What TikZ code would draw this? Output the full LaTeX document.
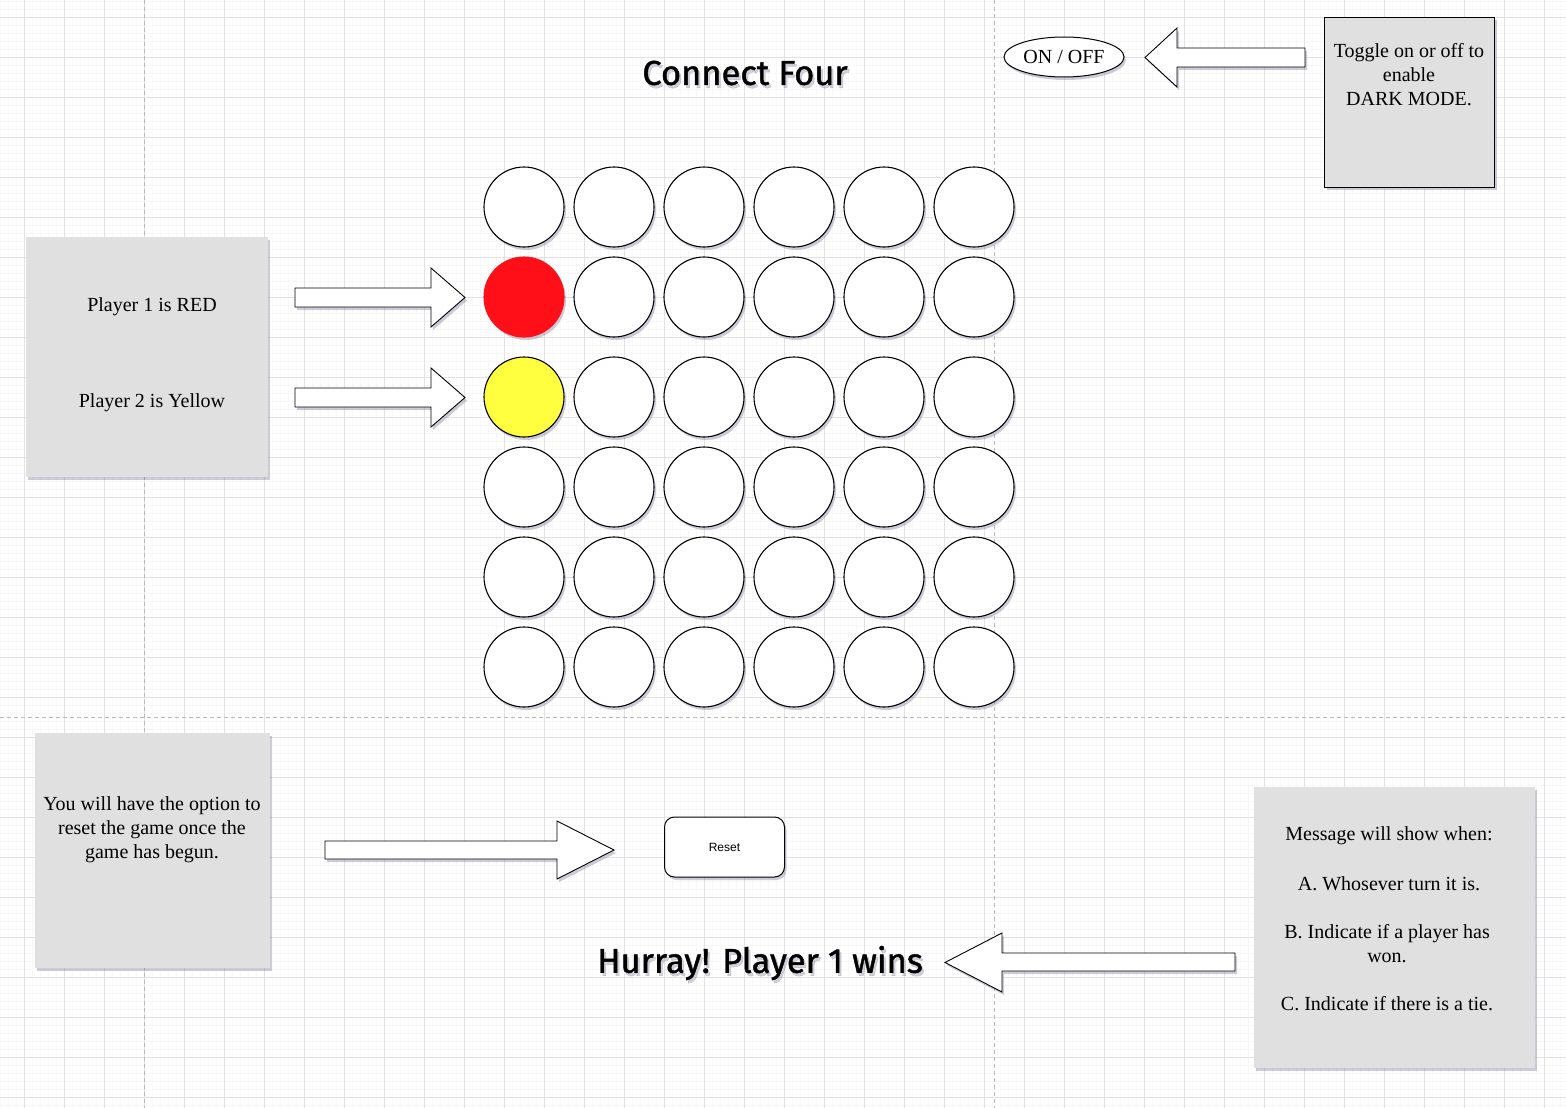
\documentclass[tikz,border=0pt]{standalone}
\usepackage{fontspec}
\setmainfont{Liberation Serif}
\newfontfamily\comic[FakeBold=1.2]{Fira Sans}
\newfontfamily\helv{Liberation Sans}
\usetikzlibrary{shadows,shapes.geometric}
\definecolor{gridminor}{HTML}{F7F7F7}
\definecolor{gridmajor}{HTML}{E2E2E2}
\definecolor{pagebreak}{HTML}{B8B8B8}
\definecolor{boxgray}{HTML}{E0E0E0}
\definecolor{shadowc}{HTML}{6E6E90}
\definecolor{chipred}{HTML}{FF0F17}
\definecolor{chipyellow}{HTML}{FFFF40}
\begin{document}
\begin{tikzpicture}[x=1pt,y=-1pt,
  shad/.style={drop shadow={shadow xshift=2pt,shadow yshift=-3pt,fill=shadowc,opacity=0.35}},
  note/.style={fill=boxgray,shad,inner sep=0pt},
  disc/.style={circle,draw=black,line width=1.1pt,fill=white,minimum size=80pt,inner sep=0pt,shad},
  barrow/.style={draw=black,fill=white,line width=0.9pt,line join=miter,shad},
  serif/.style={font=\fontsize{20}{24}\selectfont,align=center,inner sep=0pt},
  bigcomic/.style={font=\comic\fontsize{34.5}{38}\selectfont,inner sep=0pt},
  comicshadow/.style={bigcomic,text=shadowc,opacity=0.3}
]
\useasboundingbox (0,0) rectangle (1566,1108);
\fill[white] (0,0) rectangle (1566,1108);
% grid
\foreach \gx in {0,8,...,1566} \draw[gridminor,line width=0.8pt] (\gx,0) -- (\gx,1108);
\foreach \gy in {1,9,...,1108} \draw[gridminor,line width=0.8pt] (0,\gy) -- (1566,\gy);
\foreach \gx in {24,64,...,1566} \draw[gridmajor,line width=0.8pt] (\gx,0) -- (\gx,1108);
\foreach \gy in {17,57,...,1108} \draw[gridmajor,line width=0.8pt] (0,\gy) -- (1566,\gy);
\draw[pagebreak,line width=0.8pt,dash pattern=on 4pt off 3pt] (144,0) -- (144,1108);
\draw[pagebreak,line width=0.8pt,dash pattern=on 4pt off 3pt] (994,0) -- (994,1108);
\draw[pagebreak,line width=0.8pt,dash pattern=on 4pt off 3pt] (0,717) -- (1566,717);

% title
\node[comicshadow] at (747,76) {Connect Four};
\node[bigcomic] (title) at (745,73) {Connect Four};

% board
\foreach \yy [count=\r] in {207,297,397,487,577,667}
  \foreach \xx [count=\c] in {524,614,704,794,884,974}
  {\ifnum\r\c=21 \else\ifnum\r\c=31 \else \node[disc] (d\r\c) at (\xx,\yy) {};\fi\fi}
\node[disc,fill=chipred,draw=chipred] (d21) at (524,297) {};
\node[disc,fill=chipyellow] (d31) at (524,397) {};

% players note
\node[note,minimum width=242pt,minimum height=240pt] (players) at (147,357) {};
\node[serif] (p1) at (152,307) {Player 1 is RED};
\node[serif] (p2) at (152,403) {Player 2 is Yellow};
\draw[barrow] (295,288) -- (431,288) -- (431,268) -- (465,297.5) -- (431,327) -- (431,307) -- (295,307) -- cycle;
\draw[barrow] (295,388) -- (431,388) -- (431,368) -- (465,397.5) -- (431,427) -- (431,407) -- (295,407) -- cycle;

% dark mode
\node[note,draw=black,line width=0.9pt,minimum width=170pt,minimum height=170pt] (dark) at (1409.5,102) {};
\node[serif] (darktext) at (1409,75) {Toggle on or off to\\enable\\DARK MODE.};
\node[ellipse,draw=black,line width=1pt,fill=white,minimum width=120pt,minimum height=40pt,inner sep=0pt,shad,font=\fontsize{20}{24}\selectfont] (onoff) at (1064,57) {\raisebox{-1pt}{ON / OFF}};
\draw[barrow] (1305,48) -- (1177,48) -- (1177,28) -- (1145,57.5) -- (1177,87) -- (1177,67) -- (1305,67) -- cycle;

% reset
\node[note,minimum width=235pt,minimum height=235pt] (resetnote) at (152.5,850.5) {};
\node[serif] (resettext) at (152,830) {You will have the option to\\reset the game once the\\game has begun.};
\draw[barrow] (325,841) -- (557,841) -- (557,821) -- (614,850) -- (557,879) -- (557,859) -- (325,859) -- cycle;
\node[draw=black,line width=1pt,fill=white,rounded corners=10pt,minimum width=120pt,minimum height=60pt,shad,font=\helv\fontsize{12}{14}\selectfont] (reset) at (724.5,847) {Reset};

% message
\node[note,minimum width=281pt,minimum height=281pt] (msgnote) at (1394.5,927.5) {};
\node[serif] (m0) at (1389,836) {Message will show when:};
\node[serif] (m1) at (1389,884) {A. Whosever turn it is.};
\node[serif] (m2) at (1387,944) {B. Indicate if a player has\\won.};
\node[serif] (m3) at (1387,1004) {C. Indicate if there is a tie.};
\draw[barrow] (1235,953) -- (1002,953) -- (1002,933) -- (945,962.5) -- (1002,992) -- (1002,971) -- (1235,971) -- cycle;
\node[comicshadow] at (762,966) {Hurray! Player 1 wins};
\node[bigcomic] (hurray) at (760,963) {Hurray! Player 1 wins};
\end{tikzpicture}
\end{document}
